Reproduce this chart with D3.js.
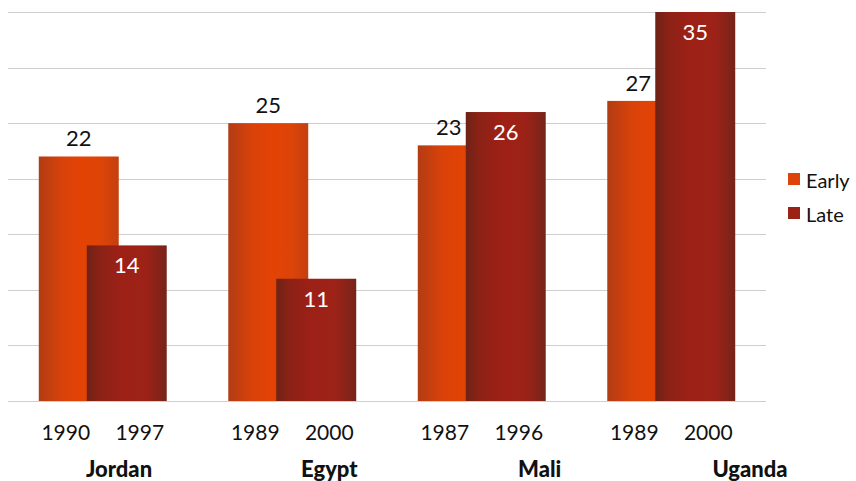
<!DOCTYPE html>
<html>
<head>
<meta charset="utf-8">
<script src="https://cdn.jsdelivr.net/npm/d3@7"></script>
<style>
  html, body { margin: 0; padding: 0; background: #fff; }
  svg { display: block; font-family: Lato, "Open Sans", sans-serif; }
</style>
</head>
<body>
<svg id="chart" width="856" height="481"></svg>
<script>
// ---- data ----
const categories = ["Jordan", "Egypt", "Mali", "Uganda"];
const seriesNames = ["Early", "Late"];
const earlyYears = ["1990", "1989", "1987", "1989"];
const lateYears  = ["1997", "2000", "1996", "2000"];
const earlyValues = [22, 25, 23, 27];
const lateValues  = [14, 11, 26, 35];
const yTicks = [0, 5, 10, 15, 20, 25, 30, 35];

// ---- layout ----
const W = 856, H = 481;
const plot = { left: 8, right: 766, top: 12, bottom: 401 };

const svg = d3.select("#chart");
const defs = svg.append("defs");

function gradient(id, stops) {
  const g = defs.append("linearGradient").attr("id", id)
    .attr("x1", "0%").attr("x2", "100%").attr("y1", "0%").attr("y2", "0%");
  stops.forEach(([o, c]) => g.append("stop").attr("offset", o).attr("stop-color", c));
}
gradient("gEarly", [["0%", "#b23c14"], ["30%", "#d9420a"], ["55%", "#e34304"], ["80%", "#dc4408"], ["100%", "#c43f10"]]);
gradient("gLate",  [["0%", "#6e2216"], ["15%", "#8a2216"], ["45%", "#9e2016"], ["75%", "#9c2218"], ["100%", "#762418"]]);

const y = d3.scaleLinear().domain([0, 35]).range([plot.bottom, plot.top]);
const x0 = d3.scaleBand().domain(categories).range([plot.left, plot.right]).padding(0);
const bw = x0.bandwidth();
const barWidth = bw * 0.422;
const lateShift = barWidth * 0.6;
const groupStart = c => x0(c) + (bw - (barWidth + lateShift)) / 2;
const groupCenter = c => x0(c) + bw / 2;

// gridlines
svg.append("g").selectAll("line").data(yTicks).join("line")
  .attr("x1", plot.left).attr("x2", plot.right)
  .attr("y1", d => Math.round(y(d)) + 0.5).attr("y2", d => Math.round(y(d)) + 0.5)
  .attr("stroke", "#cfcfcf").attr("stroke-width", 1.2);

const rows = categories.map((c, i) => ({
  c, early: earlyValues[i], late: lateValues[i], ey: earlyYears[i], ly: lateYears[i]
}));

// early bars
svg.append("g").selectAll("rect").data(rows).join("rect")
  .attr("x", d => groupStart(d.c))
  .attr("y", d => y(d.early))
  .attr("width", barWidth)
  .attr("height", d => y(0) - y(d.early))
  .attr("fill", "url(#gEarly)");

// late bars
svg.append("g").selectAll("rect").data(rows).join("rect")
  .attr("x", d => groupStart(d.c) + lateShift)
  .attr("y", d => y(d.late))
  .attr("width", barWidth)
  .attr("height", d => y(0) - y(d.late))
  .attr("fill", "url(#gLate)");

// early value labels (above)
svg.append("g").selectAll("text").data(rows).join("text")
  .attr("x", d => groupStart(d.c) + barWidth / 2 - (d.late > d.early ? 9 : 0))
  .attr("y", d => y(d.early) - 10)
  .attr("text-anchor", "middle")
  .attr("font-size", 22).attr("fill", "#111")
  .text(d => d.early);

// late value labels (inside)
svg.append("g").selectAll("text").data(rows).join("text")
  .attr("x", d => groupStart(d.c) + lateShift + barWidth / 2)
  .attr("y", d => y(d.late) + 28)
  .attr("text-anchor", "middle")
  .attr("font-size", 22).attr("fill", "#fff")
  .text(d => d.late);

// year labels
const yearG = svg.append("g").attr("font-size", 21).attr("fill", "#111").attr("text-anchor", "middle");
yearG.selectAll("text.e").data(rows).join("text").attr("class", "e")
  .attr("x", d => groupCenter(d.c) - 37).attr("y", 440).text(d => d.ey);
yearG.selectAll("text.l").data(rows).join("text").attr("class", "l")
  .attr("x", d => groupCenter(d.c) + 37).attr("y", 440).text(d => d.ly);

// category labels
const catX = d3.scalePoint().domain(categories).range([119, 750]);
svg.append("g").selectAll("text").data(categories).join("text")
  .attr("x", d => catX(d)).attr("y", 477)
  .attr("text-anchor", "middle")
  .attr("font-size", 22).attr("font-weight", 900).attr("fill", "#111")
  .text(d => d);

// legend
const legendColors = ["#dd440a", "#9a2216"];
const lg = svg.append("g").attr("transform", "translate(788,173)");
const li = lg.selectAll("g").data(seriesNames).join("g")
  .attr("transform", (d, i) => `translate(0,${i * 34})`);
li.append("rect").attr("width", 12).attr("height", 12).attr("fill", (d, i) => legendColors[i]);
li.append("text").attr("x", 18).attr("y", 15).attr("font-size", 20).attr("fill", "#111").text(d => d);
</script>
</body>
</html>
